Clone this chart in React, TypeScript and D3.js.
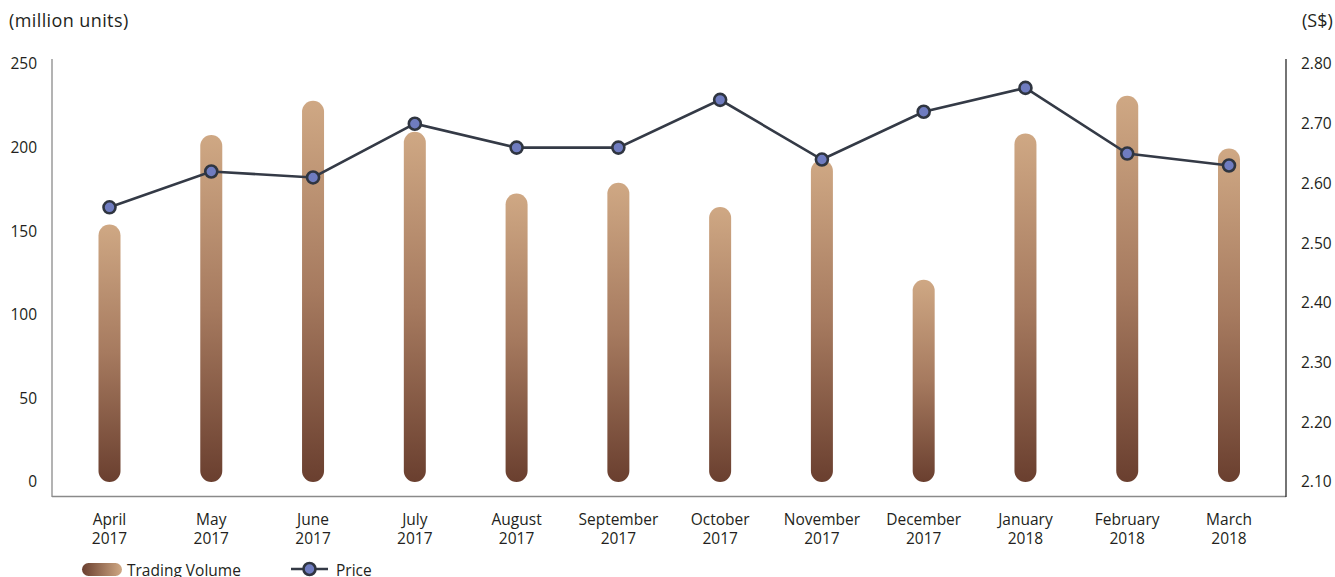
import React from "react";
import * as d3 from "d3";

const months = ["April", "May", "June", "July", "August", "September", "October", "November", "December", "January", "February", "March"];
const years = ["2017", "2017", "2017", "2017", "2017", "2017", "2017", "2017", "2017", "2018", "2018", "2018"];
const volume = [154, 207.5, 228, 209.5, 172.5, 179, 164.5, 192.5, 121, 208.5, 231, 199.5];
const price = [2.56, 2.62, 2.61, 2.70, 2.66, 2.66, 2.74, 2.64, 2.72, 2.76, 2.65, 2.63];
const leftTicks = [0, 50, 100, 150, 200, 250];
const rightTicks = [2.1, 2.2, 2.3, 2.4, 2.5, 2.6, 2.7, 2.8];

const W = 1335;
const H = 577;
const FONT = "'Open Sans', 'Noto Sans', sans-serif";
const TEXT = "#231f20";

export default function App() {
  const x = d3.scalePoint<string>().domain(months).range([109.5, 1229]);
  const yL = d3.scaleLinear().domain([0, 250]).range([482, 64]);
  const yR = d3.scaleLinear().domain([2.1, 2.8]).range([482, 64]);
  const barW = 22;
  const line = d3
    .line<number>()
    .x((_, i) => x(months[i]) as number)
    .y((d) => yR(d));

  return (
    <svg width={W} height={H} style={{ position: "absolute", left: 0, top: 0, display: "block" }} fontFamily={FONT}>
      <defs>
        <linearGradient id="barGrad" x1="0" y1="0" x2="0" y2="1">
          <stop offset="0%" stopColor="#cfa884" />
          <stop offset="50%" stopColor="#a67a5f" />
          <stop offset="100%" stopColor="#6a3f2f" />
        </linearGradient>
        <linearGradient id="legGrad" x1="0" y1="0" x2="1" y2="0">
          <stop offset="0%" stopColor="#6a3f2f" />
          <stop offset="100%" stopColor="#cfa884" />
        </linearGradient>
      </defs>

      {/* axis titles */}
      <text x={9} y={27} fontSize={18} letterSpacing={0.4} fill={TEXT}>(million units)</text>
      <text x={1302} y={27} fontSize={18} fill={TEXT}>(S$)</text>

      {/* axes lines */}
      <line x1={52} y1={59} x2={52} y2={497} stroke="#8a8a8a" strokeWidth={1.3} />
      <line x1={52} y1={496.5} x2={1286} y2={496.5} stroke="#8a8a8a" strokeWidth={1.5} />
      <line x1={1286} y1={59} x2={1286} y2={497} stroke="#2a2a2a" strokeWidth={1.3} />

      {/* left tick labels */}
      {leftTicks.map((t) => (
        <text key={"l" + t} x={37} y={yL(t)} dy="0.35em" textAnchor="end" fontSize={15.5} fill={TEXT}>
          {t}
        </text>
      ))}
      {/* right tick labels */}
      {rightTicks.map((t) => (
        <text key={"r" + t} x={1301} y={yR(t)} dy="0.35em" textAnchor="start" fontSize={15.5} fill={TEXT}>
          {t.toFixed(2)}
        </text>
      ))}

      {/* bars */}
      {volume.map((v, i) => {
        const cx = x(months[i]) as number;
        const top = yL(v);
        const bottom = yL(0);
        return (
          <rect
            key={"b" + i}
            x={cx - barW / 2}
            y={top}
            width={barW}
            height={bottom - top}
            rx={barW / 2}
            ry={barW / 2}
            fill="url(#barGrad)"
          />
        );
      })}

      {/* price line */}
      <path d={line(price) || ""} fill="none" stroke="#343a46" strokeWidth={2.6} />
      {price.map((p, i) => (
        <circle key={"c" + i} cx={x(months[i]) as number} cy={yR(p)} r={6} fill="#6f7cc0" stroke="#2f3540" strokeWidth={2.6} />
      ))}

      {/* x labels */}
      {months.map((m, i) => (
        <text key={"x" + i} x={x(m) as number} y={525} textAnchor="middle" fontSize={15.5} fill={TEXT}>
          <tspan x={x(m) as number}>{m}</tspan>
          <tspan x={x(m) as number} dy={18.5}>{years[i]}</tspan>
        </text>
      ))}

      {/* legend */}
      <rect x={82} y={563} width={40} height={13} rx={6.5} ry={6.5} fill="url(#legGrad)" />
      <text x={127} y={576} fontSize={15.5} fill={TEXT}>Trading Volume</text>
      <line x1={291} y1={569} x2={328} y2={569} stroke="#343a46" strokeWidth={2.6} />
      <circle cx={309.5} cy={569} r={6} fill="#6f7cc0" stroke="#2f3540" strokeWidth={2.6} />
      <text x={336} y={576} fontSize={15.5} fill={TEXT}>Price</text>
    </svg>
  );
}
